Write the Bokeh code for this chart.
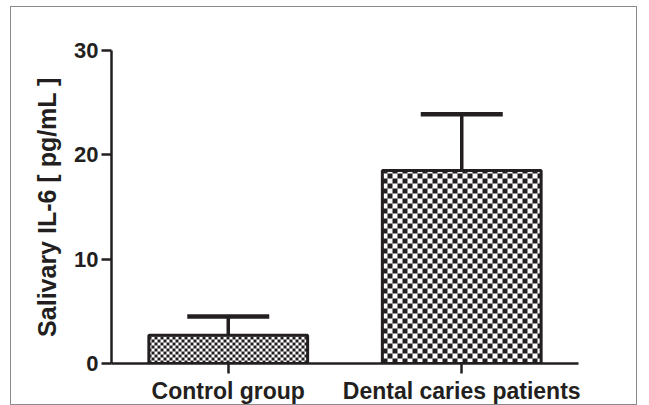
import numpy as np
from bokeh.plotting import figure
from bokeh.models import ColumnDataSource, FactorRange, Range1d, Whisker, TeeHead, FixedTicker
from bokeh.embed import file_html
from bokeh.resources import INLINE

categories = ["Control group", "Dental caries patients"]
means = [2.7, 18.5]
sds = [1.8, 5.4]
y_ticks = [0, 10, 20, 30]

INK = "#231f20"
BAR_W = 0.68
CELL_PX = [3, 5]          # checker cell size (pixels) of each bar's fill pattern

W, H = 627, 399
MB_L, MB_R, MB_T, MB_B = 100, 60, 43, 43
Y_MAX = 30
frame_w = W - MB_L - MB_R
frame_h = H - MB_T - MB_B
x_per_px = len(categories) / frame_w
y_per_px = Y_MAX / frame_h

upper = [m + s for m, s in zip(means, sds)]
src = ColumnDataSource(dict(x=categories, top=means, upper=upper, lower=means))

p = figure(x_range=FactorRange(*categories, range_padding=0), y_range=Range1d(0, Y_MAX),
           width=W, height=H, output_backend="svg", toolbar_location=None,
           min_border_left=MB_L, min_border_right=MB_R, min_border_top=MB_T, min_border_bottom=MB_B)
p.styles = {"border": "1px solid #8a8a8a", "margin-left": "10px", "margin-top": "6px"}
p.outline_line_color = None
p.xgrid.visible = False
p.ygrid.visible = False

# checkerboard fill of each bar, derived from the bar's value
for i, (m, cell) in enumerate(zip(means, CELL_PX)):
    left_px = round((i + 0.5 - BAR_W / 2) / x_per_px)
    right_px = round((i + 0.5 + BAR_W / 2) / x_per_px)
    top_px = m / y_per_px
    ncol = int(np.ceil((right_px - left_px) / cell))
    nrow = int(np.ceil(top_px / cell))
    L, R, B, T = [], [], [], []
    for r in range(nrow):
        for c in range(ncol):
            if (r + c) % 2 == 0:
                lpx = left_px + c * cell
                bpx = r * cell
                L.append(lpx * x_per_px)
                R.append(min(lpx + cell, right_px) * x_per_px)
                B.append(bpx * y_per_px)
                T.append(min(bpx + cell, top_px) * y_per_px)
    p.quad(left=L, right=R, bottom=B, top=T, fill_color=INK, line_color=None)

p.vbar(x="x", top="top", bottom=0, width=BAR_W, source=src,
       fill_color=None, line_color=INK, line_width=3)

w = Whisker(base="x", upper="upper", lower="lower", source=src,
            line_color=INK, line_width=3.5,
            upper_head=TeeHead(size=82, line_color=INK, line_width=4.5), lower_head=None)
p.add_layout(w)

for ax in (p.xaxis[0], p.yaxis[0]):
    ax.axis_line_color = INK
    ax.axis_line_width = 2.5
    ax.major_tick_line_color = INK
    ax.major_tick_line_width = 2.5
    ax.major_tick_out = 10
    ax.major_tick_in = 0
    ax.minor_tick_line_color = None
    ax.major_label_text_font = "Liberation Sans"
    ax.major_label_text_font_style = "bold"
    ax.major_label_text_color = INK
    ax.axis_label_text_font = "Liberation Sans"
    ax.axis_label_text_font_style = "bold"
    ax.axis_label_text_color = INK

p.yaxis.ticker = FixedTicker(ticks=y_ticks)
p.yaxis.major_label_text_font_size = "22px"
p.yaxis.major_label_standoff = 3
p.yaxis.axis_label = "Salivary IL-6 [ pg/mL ]"
p.yaxis.axis_label_text_font_size = "25px"
p.yaxis.axis_label_standoff = 10
p.xaxis.major_label_text_font_size = "23px"
p.xaxis.major_label_standoff = 4

open("out.html", "w").write(file_html(p, INLINE))
